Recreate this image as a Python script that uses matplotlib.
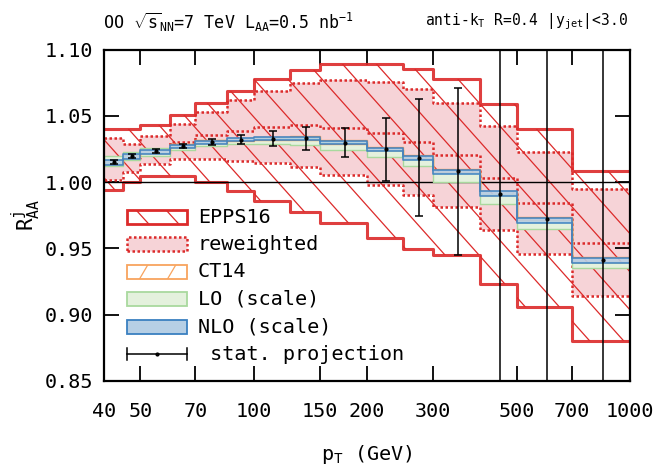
import numpy as np
import matplotlib
matplotlib.use('Agg')
import matplotlib.pyplot as plt
from matplotlib.collections import LineCollection
from matplotlib.patches import Rectangle
from matplotlib.ticker import NullLocator, FixedLocator

plt.rcParams['font.family'] = ['DejaVu Sans Mono']
plt.rcParams['mathtext.fontset'] = 'custom'
plt.rcParams['mathtext.rm'] = 'DejaVu Sans Mono'
plt.rcParams['mathtext.it'] = 'DejaVu Sans Mono'

# bin edges in pT (GeV)
edges = [40, 45, 50, 60, 70, 85, 100, 125, 150, 200, 250, 300, 400, 500, 700, 1000]
centers = [42.5, 47.5, 55, 65, 77.5, 92.5, 112.5, 137.5, 175, 225, 275, 350, 450, 600, 850]

# EPPS16 band
epps_hi = [1.0397, 1.0397, 1.0433, 1.0508, 1.0599, 1.0686, 1.0775, 1.0848, 1.0893,
           1.0893, 1.0855, 1.0775, 1.0591, 1.0400, 1.0081]
epps_lo = [0.9937, 1.0000, 1.0045, 1.0043, 1.0000, 0.9930, 0.9857, 0.9778, 0.9691,
           0.9578, 0.9495, 0.9447, 0.9228, 0.9057, 0.8799]

# reweighted band
rw_hi = [1.0335, 1.0290, 1.0347, 1.0435, 1.0528, 1.0616, 1.0686, 1.0747, 1.0767,
         1.0754, 1.0704, 1.0596, 1.0420, 1.0226, 0.9945]
rw_mid = [1.0174, 1.0183, 1.0243, 1.0306, 1.0352, 1.0388, 1.0415, 1.0430, 1.0410,
          1.0367, 1.0302, 1.0203, 1.0030, 0.9840, 0.9543]
rw_lo = [1.0013, 1.0075, 1.0139, 1.0176, 1.0176, 1.0160, 1.0143, 1.0113, 1.0050,
         0.9980, 0.9900, 0.9810, 0.9640, 0.9455, 0.9140]

# CT14, LO (scale), NLO (scale)
ct14_lo = [1.0140, 1.0183, 1.0222, 1.0263, 1.0293, 1.0311, 1.0318, 1.0321, 1.0290,
           1.0240, 1.0178, 1.0074, 0.9900, 0.9712, 0.9400]
ct14_hi = [1.0165, 1.0208, 1.0245, 1.0285, 1.0316, 1.0335, 1.0342, 1.0346, 1.0315,
           1.0266, 1.0203, 1.0100, 0.9935, 0.9740, 0.9436]
lo_lo = [1.0125, 1.0165, 1.0200, 1.0240, 1.0270, 1.0285, 1.0285, 1.0280, 1.0245,
         1.0188, 1.0118, 1.0000, 0.9835, 0.9645, 0.9355]
lo_hi = [1.0195, 1.0230, 1.0260, 1.0290, 1.0315, 1.0330, 1.0335, 1.0335, 1.0300,
         1.0245, 1.0180, 1.0075, 0.9910, 0.9715, 0.9400]
nlo_lo = [1.0130, 1.0175, 1.0215, 1.0258, 1.0290, 1.0308, 1.0315, 1.0318, 1.0285,
          1.0232, 1.0168, 1.0062, 0.9892, 0.9691, 0.9389]
nlo_hi = [1.0170, 1.0210, 1.0245, 1.0283, 1.0312, 1.0330, 1.0337, 1.0340, 1.0307,
          1.0258, 1.0196, 1.0092, 0.9930, 0.9729, 0.9430]

# stat. projection
stat_val = [1.0151, 1.0194, 1.0232, 1.0272, 1.0302, 1.0320, 1.0327, 1.0330, 1.0297,
            1.0247, 1.0184, 1.0080, 0.9907, 0.9720, 0.9410]
stat_err = [0.0013, 0.0015, 0.0014, 0.0018, 0.0025, 0.0036, 0.0057, 0.0085, 0.0110,
            0.0235, 0.0440, 0.0628, 0.2000, 0.2500, 0.3000]

xticks = [40, 50, 70, 100, 150, 200, 300, 500, 700, 1000]
yticks = [0.85, 0.90, 0.95, 1.00, 1.05, 1.10]

RED = '#dc2a2a'
PINK = '#f6d3d7'
ORANGE = '#f8a45e'
GREEN_F = '#e4f1dd'
GREEN_E = '#a9d99e'
BLUE_F = '#b6cfe5'
BLUE_E = '#3a80c0'


def ext(v):
    return np.r_[v, v[-1]]


def hatch(ax, clip, clip_tr, spacing, slope, color, lw, zorder):
    bb = ax.get_window_extent()
    W, H = bb.width, bb.height
    segs = []
    for x0 in np.arange(-3 * (W + H), 3 * (W + H), spacing):
        y1, y2 = -20.0, H + 20.0
        segs.append([((x0 + y1 / slope) / W, y1 / H), ((x0 + y2 / slope) / W, y2 / H)])
    lc = LineCollection(segs, colors=color, linewidths=lw, transform=ax.transAxes,
                        zorder=zorder)
    ax.add_collection(lc)
    lc.set_clip_path(clip, clip_tr)
    return lc


fig = plt.figure(figsize=(6.65, 4.68), dpi=100)
ax = fig.add_axes([104 / 665, 1 - 381 / 468, 526 / 665, 331.5 / 468])
ax.set_xscale('log')
ax.set_xlim(40, 1000)
ax.set_ylim(0.85, 1.10)

# reweighted fill
ax.fill_between(edges, ext(rw_lo), ext(rw_hi), step='post', facecolor=PINK,
                edgecolor='none', zorder=1)

# EPPS16 hatched band
epps_poly = ax.fill_between(edges, ext(epps_lo), ext(epps_hi), step='post',
                            facecolor='none', edgecolor='none', zorder=2)
hatch(ax, epps_poly.get_paths()[0], ax.transData, 34, -1.12, RED, 0.9, 2)
for v in (epps_hi, epps_lo):
    ax.step(edges, ext(v), where='post', color=RED, lw=2.2, alpha=0.9, zorder=3)

# reweighted dotted borders
for v in (rw_hi, rw_mid, rw_lo):
    ax.step(edges, ext(v), where='post', color=RED, lw=1.8, ls=(0, (1, 1)), zorder=3)

ax.axhline(1.0, color='black', lw=1.0, zorder=4)

# LO (scale)
ax.fill_between(edges, ext(lo_lo), ext(lo_hi), step='post', facecolor=GREEN_F,
                edgecolor=GREEN_E, lw=1.0, zorder=5)
# CT14
ct_poly = ax.fill_between(edges, ext(ct14_lo), ext(ct14_hi), step='post',
                          facecolor='none', edgecolor=ORANGE, lw=1.0, zorder=6)
hatch(ax, ct_poly.get_paths()[0], ax.transData, 33, 1.7, ORANGE, 0.8, 6)
# NLO (scale)
ax.fill_between(edges, ext(nlo_lo), ext(nlo_hi), step='post', facecolor=BLUE_F,
                edgecolor=BLUE_E, lw=1.2, alpha=0.9, zorder=7)

# stat. projection
ax.errorbar(centers, stat_val, yerr=stat_err, fmt='o', ms=2, color='black',
            ecolor='black', elinewidth=1.1, capsize=3.2, capthick=1.1, zorder=8)

# legend (drawn by hand)
rows = [0.4938, 0.4124, 0.3297, 0.2474, 0.1638, 0.0814]
bx, bw, bh = 0.0437, 0.114, 0.0422
labels = ['EPPS16', 'reweighted', 'CT14', 'LO (scale)', 'NLO (scale)']
styles = [
    dict(facecolor='white', edgecolor=RED, lw=2.0, ls='-'),
    dict(facecolor=PINK, edgecolor=RED, lw=1.8, ls=(0, (1, 1))),
    dict(facecolor='white', edgecolor=ORANGE, lw=1.3, ls='-'),
    dict(facecolor=GREEN_F, edgecolor=GREEN_E, lw=1.3, ls='-'),
    dict(facecolor=BLUE_F, edgecolor=BLUE_E, lw=1.3, ls='-'),
]
for i, (lab, st) in enumerate(zip(labels, styles)):
    r = Rectangle((bx, rows[i] - bh / 2), bw, bh, transform=ax.transAxes,
                  zorder=10, **st)
    ax.add_patch(r)
    if i == 0:
        hatch(ax, r, None, 30, -1.1, RED, 0.9, 10)
    if i == 2:
        hatch(ax, r, None, 28, 1.7, ORANGE, 0.9, 10)
    ax.text(0.1787, rows[i], lab, transform=ax.transAxes, fontsize=14.5,
            va='center', ha='left', zorder=11)
yl = rows[5]
ax.plot([bx, bx + bw], [yl, yl], color='black', lw=1.1, transform=ax.transAxes, zorder=10)
for xc in (bx, bx + bw):
    ax.plot([xc, xc], [yl - 0.018, yl + 0.018], color='black', lw=1.1,
            transform=ax.transAxes, zorder=10)
ax.plot([bx + bw / 2], [yl], 'o', ms=2, color='black', transform=ax.transAxes, zorder=10)
ax.text(0.1787, yl, ' stat. projection', transform=ax.transAxes, fontsize=14.5,
        va='center', ha='left', zorder=11)

# axes styling
ax.xaxis.set_major_locator(FixedLocator(xticks))
ax.xaxis.set_minor_locator(NullLocator())
ax.set_xticklabels([str(t) for t in xticks])
ax.set_yticks(yticks)
ax.set_yticklabels(['%.2f' % t for t in yticks])
ax.tick_params(direction='in', length=11, width=1.3, top=True, right=True,
               labelsize=14.5)
ax.tick_params(axis='x', pad=15)
ax.tick_params(axis='y', pad=8)
for s in ax.spines.values():
    s.set_linewidth(1.6)
    s.set_zorder(12)

ax.set_xlabel(r'p$_{\rm T}$ (GeV)', fontsize=14.5, labelpad=16)
ax.set_ylabel(r'R$^{\rm j}_{\rm AA}$', fontsize=15, labelpad=1)

fig.text(103 / 665, 1 - 22 / 468,
         r'OO $\sqrt{\rm s}_{\rm NN}$=7 TeV L$_{\rm AA}$=0.5 nb$^{-1}$',
         fontsize=12, ha='left', va='center')
fig.text(628 / 665, 1 - 22 / 468,
         r'anti-k$_{\rm T}$ R=0.4 |y$_{\rm jet}$|<3.0',
         fontsize=10.5, ha='right', va='center')

fig.savefig('out.png', dpi=100)
